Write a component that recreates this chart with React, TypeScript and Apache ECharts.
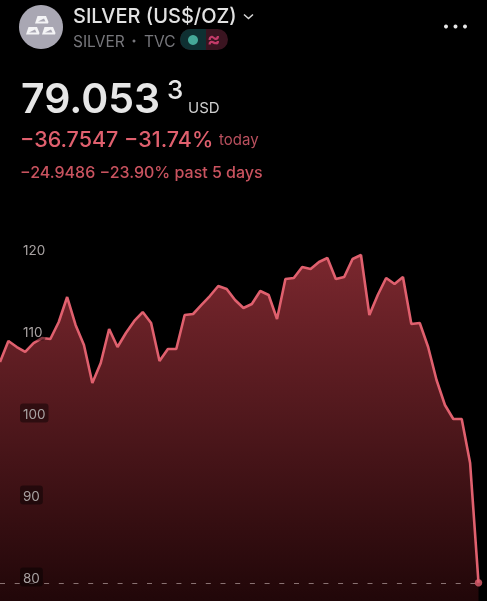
import React, { useEffect, useRef } from "react";
import * as echarts from "echarts";

const prices = [105.98,108.54,107.8,107.2,108.29,108.9,108.78,110.85,113.9,110.49,108.05,103.41,105.85,110.0,107.8,109.51,110.98,112.07,110.73,106.1,107.56,107.56,111.71,111.83,112.93,114.02,115.24,114.88,113.54,112.56,113.05,114.63,114.15,111.22,116.1,116.22,117.56,117.32,118.17,118.66,116.1,116.34,118.54,119.02,111.71,114.15,116.22,115.49,116.34,110.61,110.73,107.8,103.78,100.73,99.02,99.02,93.66,79.053];
const categories = prices.map((_, i) => String(i));
const lastPrice = prices[prices.length - 1];
const yTicks = [120, 110, 100, 90, 80];

const FONT = "Inter, 'Liberation Sans', sans-serif";
const RED = "#e0606e";

function txt(text: string, x: number, y: number, fontSize: number, fill: string, fontWeight: number | string = 400) {
  return { type: "text", x, y, silent: true, style: { text, fontSize, fill, fontWeight, fontFamily: FONT, verticalAlign: "middle" } };
}

export default function App() {
  const ref = useRef<HTMLDivElement>(null);
  useEffect(() => {
    document.body.style.margin = "0";
    document.body.style.background = "#000";
    const chart = echarts.init(ref.current!, undefined, { renderer: "svg" });
    const bar = (x: number, y: number) => [
      {
        type: "polygon",
        silent: true,
        shape: { points: [[x, y + 7.5], [x + 2.5, y], [x + 11, y], [x + 13.5, y + 6], [x + 13, y + 7.5]] },
        style: { fill: "#f4f4f6" },
      },
      {
        type: "polygon",
        silent: true,
        shape: { points: [[x + 3, y + 5.5], [x + 9, y + 2.5], [x + 10.5, y + 5.5]] },
        style: { fill: "#a9a7b3" },
      },
    ];
    chart.setOption({
      animation: false,
      backgroundColor: "#000",
      grid: { left: 0, width: 478.5, top: 247, height: 410, containLabel: false, outerBoundsMode: "none" },
      xAxis: { type: "category", data: categories, boundaryGap: false, show: false },
      yAxis: {
        type: "value",
        min: 70,
        max: 120,
        interval: 10,
        splitLine: { show: false },
        axisLine: { show: false },
        axisTick: { show: false },
        position: "left",
        z: 10,
        axisLabel: {
          inside: true,
          margin: 20,
          verticalAlign: "middle",
          padding: [4, 0, 0, 0],
          formatter: (v: number) => (yTicks.includes(v) ? `{b|${v}}` : ""),
          rich: {
            b: {
              color: "#a8a2a2",
              fontSize: 13.5,
              fontFamily: FONT,
              lineHeight: 14,
              padding: [3, 3, 2, 3],
              backgroundColor: "rgba(0,0,0,0.42)",
              borderRadius: 3,
            },
          },
        },
      },
      series: [
        {
          type: "line",
          data: prices,
          symbol: "none",
          lineStyle: { color: RED, width: 2.6 },
          areaStyle: {
            opacity: 1,
            color: new echarts.graphic.LinearGradient(0, 0, 0, 1, [
              { offset: 0, color: "#7a272e" },
              { offset: 0.85, color: "#220709" },
              { offset: 1, color: "#180507" },
            ]),
          },
          markLine: {
            silent: true,
            symbol: "none",
            label: { show: false },
            lineStyle: { color: "rgba(190,170,170,0.65)", type: [5, 9.7], width: 1 },
            data: [{ yAxis: lastPrice }],
          },
        },
        {
          type: "scatter",
          data: [[categories[categories.length - 1], lastPrice]],
          symbol: "circle",
          symbolSize: 7.5,
          itemStyle: { color: "#e0606f" },
          clip: false,
          z: 5,
        },
      ],
      graphic: [
        { type: "circle", silent: true, shape: { cx: 41, cy: 27, r: 22 }, style: { fill: "#a9a7b3" } },
        ...bar(35, 16),
        ...bar(26, 27),
        ...bar(42, 27),
        txt("SILVER (US$/OZ)", 73, 16, 20, "#e2e2e2", 500),
        { type: "polyline", silent: true, shape: { points: [[244, 14.5], [248.5, 18.5], [253, 14.5]] }, style: { stroke: "#d8d8d8", lineWidth: 1.5, fill: "none" } },
        txt("SILVER", 73, 41, 15.5, "#77777c"),
        { type: "circle", silent: true, shape: { cx: 134, cy: 41, r: 1.5 }, style: { fill: "#77777c" } },
        txt("TVC", 144, 41, 15.5, "#77777c"),
        { type: "rect", silent: true, shape: { x: 180, y: 29, width: 48, height: 21, r: 10.5 }, style: { fill: "#3a1420" } },
        { type: "rect", silent: true, shape: { x: 180, y: 29, width: 26, height: 21, r: [10.5, 0, 0, 10.5] }, style: { fill: "#0f3032" } },
        { type: "circle", silent: true, shape: { cx: 193, cy: 40, r: 5 }, style: { fill: "#45a898" } },
        txt("≈", 207, 39, 20, "#c23a68", 700),
        { type: "circle", silent: true, shape: { cx: 446, cy: 26.5, r: 2 }, style: { fill: "#e8e8e8" } },
        { type: "circle", silent: true, shape: { cx: 455.5, cy: 26.5, r: 2 }, style: { fill: "#e8e8e8" } },
        { type: "circle", silent: true, shape: { cx: 465, cy: 26.5, r: 2 }, style: { fill: "#e8e8e8" } },
        txt("79.053", 21, 98, 41, "#e6e6e6", 600),
        txt("3", 167, 89, 26, "#e6e6e6", 500),
        txt("USD", 188, 107, 15, "#cfcfcf"),
        txt("−36.7547 −31.74%", 20, 139, 21.5, RED, 500),
        txt("today", 219, 139, 15, "#b9505e"),
        txt("−24.9486 −23.90% past 5 days", 20, 172, 16, "#c9535f", 500),
        txt("TradingView", 192, 606, 15, "#7a6a6a", 700),
      ],
    });
    return () => chart.dispose();
  }, []);
  return <div ref={ref} style={{ width: 487, height: 601, filter: "blur(0.5px)" }} />;
}
